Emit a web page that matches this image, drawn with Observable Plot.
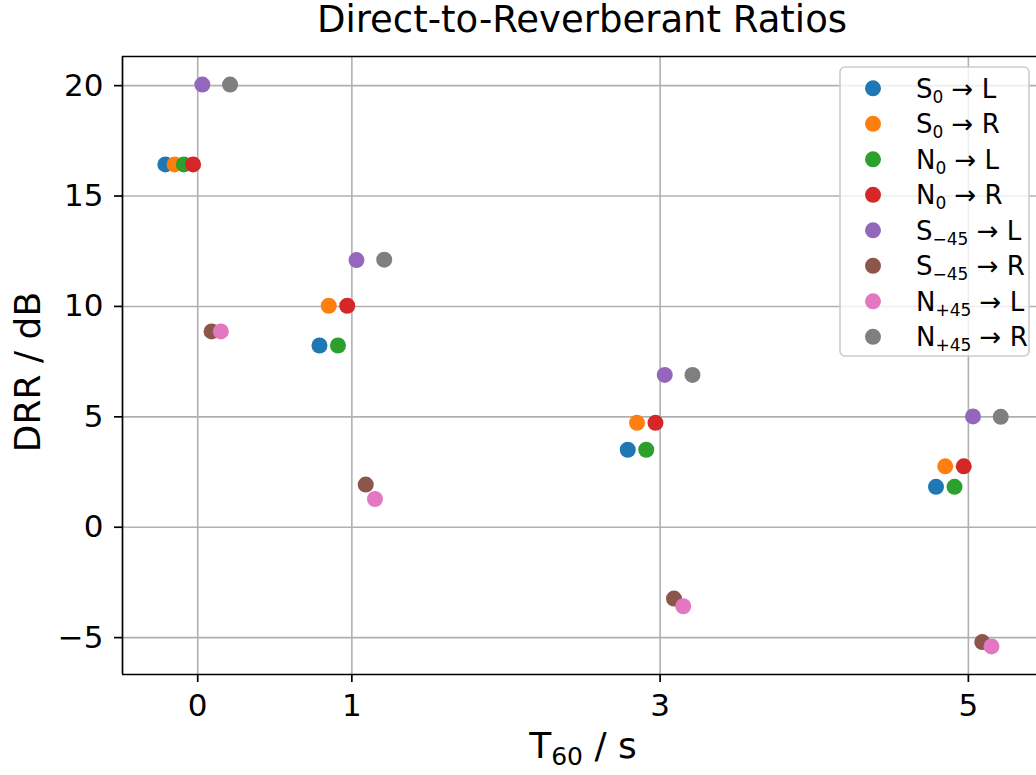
<!DOCTYPE html>
<html>
<head>
<meta charset="utf-8">
<script src="https://cdn.jsdelivr.net/npm/d3@7"></script>
<script src="https://cdn.jsdelivr.net/npm/@observablehq/plot@0.6"></script>
<style>
  html, body { margin: 0; padding: 0; background: #fff; overflow: hidden; }
  svg text { font-family: "DejaVu Sans", sans-serif; }
</style>
</head>
<body>
<div id="chart"></div>
<script>
// ---- data ----
const t60 = [0, 1, 3, 5];
const xTicks = [0, 1, 3, 5];
const yTicks = [-5, 0, 5, 10, 15, 20];
const seriesKeys = ["S0L", "S0R", "N0L", "N0R", "Sm45L", "Sm45R", "Np45L", "Np45R"];
const seriesBase = ["S", "S", "N", "N", "S", "S", "N", "N"];
const seriesSub = ["0", "0", "0", "0", "\u221245", "\u221245", "+45", "+45"];
const seriesEar = ["L", "R", "L", "R", "L", "R", "L", "R"];
const seriesColors = ["#1f77b4", "#ff7f0e", "#2ca02c", "#d62728", "#9467bd", "#8c564b", "#e377c2", "#7f7f7f"];
const seriesOffsets = [-0.21, -0.15, -0.09, -0.03, 0.03, 0.09, 0.15, 0.21];
const S0_L   = [16.43,  8.23,  3.51,  1.83];
const S0_R   = [16.43, 10.03,  4.73,  2.76];
const N0_L   = [16.43,  8.23,  3.51,  1.83];
const N0_R   = [16.43, 10.03,  4.73,  2.76];
const Sm45_L = [20.05, 12.10,  6.90,  5.02];
const Sm45_R = [ 8.87,  1.93, -3.23, -5.20];
const Np45_L = [ 8.87,  1.28, -3.58, -5.40];
const Np45_R = [20.05, 12.12,  6.90,  5.00];
const seriesValues = [S0_L, S0_R, N0_L, N0_R, Sm45_L, Sm45_R, Np45_L, Np45_R];

const xDomain = [-0.488, 5.442];
const yDomain = [-6.67, 21.32];

// ---- table ----
const rows = [];
seriesKeys.forEach((k, i) => {
  t60.forEach((t, j) => {
    rows.push({series: k, t60: t, x: t + seriesOffsets[i], y: seriesValues[i][j]});
  });
});

const W = 1036, H = 775;
const mL = 122, mR = 0, mT = 56, mB = 101;

const plot = Plot.plot({
  width: W,
  height: H,
  marginLeft: mL,
  marginRight: mR,
  marginTop: mT,
  marginBottom: mB,
  style: {fontFamily: "DejaVu Sans, sans-serif", fontSize: "31px", background: "white", overflow: "visible"},
  x: {domain: xDomain, label: null},
  y: {domain: yDomain, label: null},
  color: {domain: seriesKeys, range: seriesColors},
  marks: [
    Plot.gridX(xTicks, {stroke: "#b0b0b0", strokeOpacity: 1, strokeWidth: 1.6}),
    Plot.gridY(yTicks, {stroke: "#b0b0b0", strokeOpacity: 1, strokeWidth: 1.6}),
    Plot.axisX(xTicks, {tickSize: 8, tickPadding: 11, fontSize: 31, strokeWidth: 1.7, stroke: "black", fill: "black", label: null, tickFormat: d3.format("d")}),
    Plot.axisY(yTicks, {tickSize: 8, tickPadding: 11, fontSize: 31, strokeWidth: 1.7, stroke: "black", fill: "black", label: null}),
    Plot.ruleY([yDomain[0], yDomain[1]], {stroke: "black", strokeWidth: 1.7}),
    Plot.ruleX([xDomain[0]], {stroke: "black", strokeWidth: 1.7}),
    Plot.dot(rows, {x: "x", y: "y", fill: "series", r: 8, stroke: null})
  ]
});

document.getElementById("chart").appendChild(plot);

// ---- title, axis labels, legend ----
const svg = d3.select(plot);
const color = plot.scale("color");

svg.append("text")
  .attr("x", 582).attr("y", 32)
  .attr("text-anchor", "middle")
  .attr("font-size", 37).attr("fill", "black")
  .text("Direct-to-Reverberant Ratios");

const xl = svg.append("text")
  .attr("x", 583).attr("y", 758)
  .attr("text-anchor", "middle")
  .attr("font-size", 36).attr("fill", "black");
xl.append("tspan").text("T");
xl.append("tspan").attr("font-size", 25).attr("dy", 7).text("60");
xl.append("tspan").attr("dy", -7).text(" / s");

svg.append("text")
  .attr("transform", "translate(40,372) rotate(-90)")
  .attr("text-anchor", "middle")
  .attr("font-size", 36).attr("fill", "black")
  .text("DRR / dB");

const lg = svg.append("g").attr("text-anchor", "start");
lg.append("rect")
  .attr("x", 840).attr("y", 67).attr("width", 189).attr("height", 289)
  .attr("rx", 5).attr("ry", 5)
  .attr("fill", "white").attr("fill-opacity", 0.8)
  .attr("stroke", "#cccccc").attr("stroke-width", 1.6);

seriesKeys.forEach((k, i) => {
  const cy = 88.3 + i * 35.5;
  lg.append("circle").attr("cx", 873).attr("cy", cy).attr("r", 8).attr("fill", color.apply(k));
  const t = lg.append("text")
    .attr("x", 916).attr("y", cy + 9.5)
    .attr("text-anchor", "start")
    .attr("font-size", 26).attr("fill", "black")
    .style("white-space", "pre");
  t.append("tspan").text(seriesBase[i]);
  t.append("tspan").attr("font-size", 17).attr("dy", 5).text(seriesSub[i]);
  t.append("tspan").attr("dy", -5).text(" \u2192 " + seriesEar[i]);
});
</script>
</body>
</html>
